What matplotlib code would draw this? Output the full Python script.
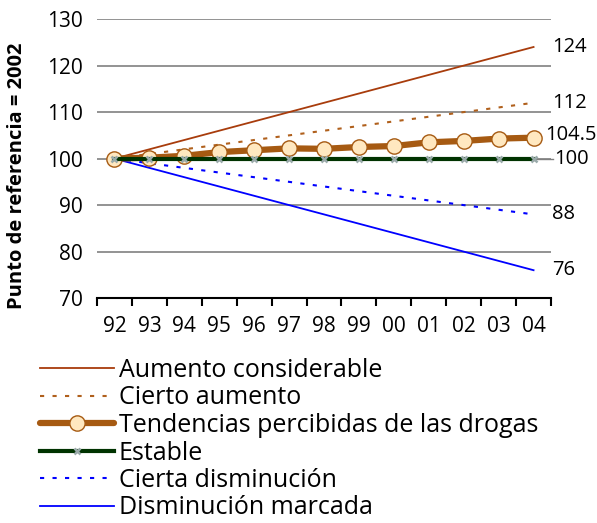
import numpy as np
import matplotlib
matplotlib.use('Agg')
import matplotlib.pyplot as plt

plt.rcParams['font.family'] = ['Open Sans', 'DejaVu Sans']

years = ['92', '93', '94', '95', '96', '97', '98', '99', '00', '01', '02', '03', '04']
aumento_cons = [100, 102, 104, 106, 108, 110, 112, 114, 116, 118, 120, 122, 124]
cierto_aum = [100, 101, 102, 103, 104, 105, 106, 107, 108, 109, 110, 111, 112]
tendencias = [100, 100.2, 100.6, 101.4, 101.8, 102.2, 102.1, 102.5, 102.7, 103.5, 103.8, 104.3, 104.5]
estable = [100] * 13
cierta_dis = [100, 99, 98, 97, 96, 95, 94, 93, 92, 91, 90, 89, 88]
dis_marcada = [100, 98, 96, 94, 92, 90, 88, 86, 84, 82, 80, 78, 76]
end_labels = ['124', '112', '104.5', '100', '88', '76']

fig = plt.figure(figsize=(5.97, 5.23), dpi=100)
ax = fig.add_axes([0.1625, 0.430, 0.7605, 0.5335])
x = np.arange(len(years))

ax.plot(x, aumento_cons, color='#A83C0C', lw=1.3, label='Aumento considerable', zorder=3)
ax.plot(x, cierto_aum, color='#B0601C', lw=1.5, ls=(0, (2, 4)), label='Cierto aumento', zorder=3)
ax.plot(x, tendencias, color='#A65A12', lw=4.5, marker='o', ms=11, mfc='#FFE8C0',
        mec='#A65A12', mew=1.0, label='Tendencias percibidas de las drogas', zorder=4,
        solid_capstyle='round')
ax.plot(x, estable, color='#003300', lw=3, marker='x', ms=4, mec='#9AAAAA', mew=1.8,
        label='Estable', zorder=5)
ax.plot(x, cierta_dis, color='#0000FF', lw=1.5, ls=(0, (2, 4)), label='Cierta disminución', zorder=3)
ax.plot(x, dis_marcada, color='#0000FF', lw=1.3, label='Disminución marcada', zorder=3)

ax.set_xlim(-0.5, 12.5)
ax.set_ylim(70, 130)
ax.set_yticks(range(70, 131, 10))
ax.set_xticks(x)
ax.set_xticklabels(years)
ax.set_xticks(np.arange(-0.5, 13, 1), minor=True)
ax.tick_params(axis='x', which='major', length=0, pad=13, labelsize=15)
ax.tick_params(axis='x', which='minor', length=6, width=1.5, color='black')
ax.tick_params(axis='y', length=0, labelsize=15, pad=10)
ax.yaxis.grid(True, color='#808080', lw=1.2)
ax.set_axisbelow(True)
for s in ['left', 'right', 'top']:
    ax.spines[s].set_visible(False)
ax.spines['bottom'].set_linewidth(1.5)
ax.set_ylabel('Punto de referencia = 2002', fontsize=14.5, fontweight='bold')
ax.yaxis.set_label_coords(-0.155, 0.44)

# end value labels
ends = [aumento_cons[-1], cierto_aum[-1], tendencias[-1], estable[-1], cierta_dis[-1], dis_marcada[-1]]
offsets = [0, 0, 0.5, 0, 0, 0]
xoffs = [1, 1, -4, 2, 1, 1]
for v, t, o, dx in zip(ends, end_labels, offsets, xoffs):
    ax.annotate(t, xy=(12.5, v + o), xytext=(dx, 0), textcoords='offset points',
                va='center', ha='left', fontsize=14.5, annotation_clip=False)
ax.plot([12, 12.55], [100, 100], color='#808080', lw=1, zorder=2, clip_on=False)

leg = fig.legend(*ax.get_legend_handles_labels(), loc='upper left',
                 bbox_to_anchor=(40 / 597, 1 - 358 / 523), frameon=False,
                 fontsize=18, handlelength=2.95, handletextpad=0.2, labelspacing=0.1,
                 borderaxespad=0, borderpad=0)

fig.savefig('out.png', dpi=100)
